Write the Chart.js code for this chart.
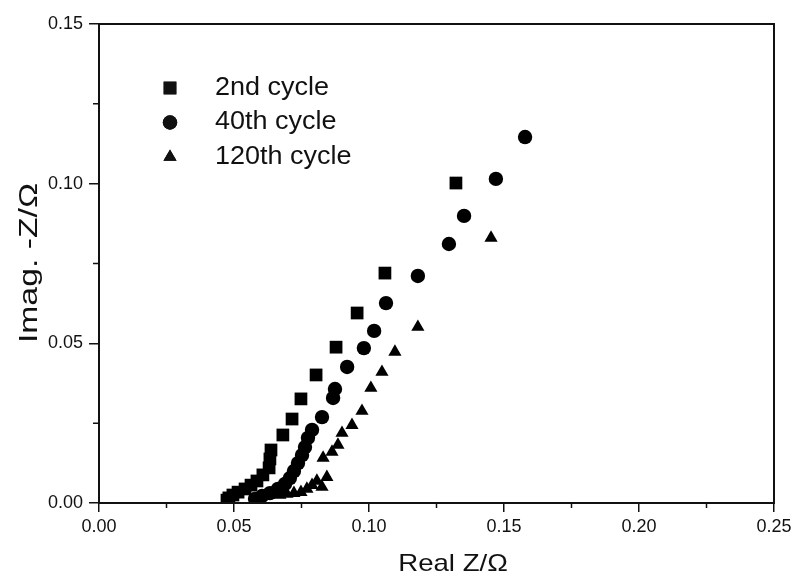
<!DOCTYPE html>
<html>
<head>
<meta charset="utf-8">
<script src="https://cdn.jsdelivr.net/npm/chart.js@4.4.1/dist/chart.umd.min.js"></script>
<style>
  html, body { margin: 0; padding: 0; background: #fff; }
  #wrap { width: 799px; height: 575px; }
</style>
</head>
<body>
<div id="wrap"><canvas id="cjs" width="799" height="575"></canvas></div>
<script>
// series values (Real Z, Imag -Z)
const cycle2X = [0.0474, 0.0481, 0.0496, 0.0515, 0.0541, 0.0563, 0.0585, 0.0607, 0.0630, 0.0633,
                 0.0637, 0.0681, 0.0715, 0.0748, 0.0804, 0.0878, 0.0956, 0.1059, 0.1322];
const cycle2Y = [0.0009, 0.0016, 0.0025, 0.0034, 0.0044, 0.0056, 0.0069, 0.0088, 0.0110, 0.0138,
                 0.0166, 0.0213, 0.0263, 0.0326, 0.0401, 0.0488, 0.0595, 0.0720, 0.1002];

const cycle40X = [0.0578, 0.0604, 0.0633, 0.0663, 0.0689, 0.0707, 0.0722, 0.0737, 0.0752, 0.0763,
                  0.0774, 0.0789, 0.0826, 0.0867, 0.0874, 0.0919, 0.0981, 0.1019, 0.1063, 0.1181,
                  0.1296, 0.1352, 0.1470, 0.1578];
const cycle40Y = [0.0013, 0.0022, 0.0031, 0.0044, 0.0060, 0.0078, 0.0100, 0.0125, 0.0150, 0.0175,
                  0.0204, 0.0229, 0.0269, 0.0329, 0.0357, 0.0426, 0.0485, 0.0539, 0.0626, 0.0711,
                  0.0811, 0.0899, 0.1015, 0.1146];

const cycle120X = [0.0670, 0.0696, 0.0722, 0.0748, 0.0770, 0.0789, 0.0807, 0.0826, 0.0844, 0.0830,
                   0.0863, 0.0885, 0.0900, 0.0937, 0.0974, 0.1007, 0.1048, 0.1096, 0.1181, 0.1452];
const cycle120Y = [0.0025, 0.0028, 0.0031, 0.0034, 0.0044, 0.0056, 0.0069, 0.0050, 0.0081, 0.0141,
                   0.0160, 0.0182, 0.0219, 0.0244, 0.0288, 0.0360, 0.0410, 0.0473, 0.0551, 0.0830];

const seriesLabels = ['2nd cycle', '40th cycle', '120th cycle'];
const seriesStyles = ['rect', 'circle', 'triangle'];
const seriesRadius = [9, 7.2, 7.6];

const xTicks = [0, 0.05, 0.10, 0.15, 0.20, 0.25];
const yTicks = [0, 0.05, 0.10, 0.15];

const FONT = 'Liberation Sans, Arial, sans-serif';

function pts(xs, ys){
    return xs.map(function(x, i){ return {x: x, y: ys[i]}; });
}

// text a bit wider than the font, like the scanned original
function wideText(ctx, txt, x, y, sx){
    ctx.save();
    ctx.translate(x, y);
    ctx.scale(sx, 1);
    ctx.fillText(txt, 0, 0);
    ctx.restore();
}

const allX = [cycle2X, cycle40X, cycle120X];
const allY = [cycle2Y, cycle40Y, cycle120Y];

const datasets = seriesLabels.map(function(lab, i){
    return {
        label: lab,
        data: pts(allX[i], allY[i]),
        pointStyle: seriesStyles[i],
        pointRadius: seriesRadius[i],
        pointHoverRadius: seriesRadius[i],
        backgroundColor: '#000',
        borderColor: '#000',
        borderWidth: 0,
        showLine: false
    };
});

// frame, minor ticks, axis titles and legend
const framePlugin = {
    id: 'frame',
    afterDraw(chart){
        const ctx = chart.ctx;
        const a = chart.chartArea;
        const xs = chart.scales.x, ys = chart.scales.y;
        ctx.save();
        ctx.strokeStyle = '#111';
        ctx.lineWidth = 2;
        ctx.strokeRect(a.left, a.top, a.right - a.left, a.bottom - a.top);

        ctx.lineWidth = 1.5;
        ctx.beginPath();
        for (let i = 0; i < xTicks.length - 1; i++){
            const px = xs.getPixelForValue((xTicks[i] + xTicks[i + 1]) / 2);
            ctx.moveTo(px, a.bottom); ctx.lineTo(px, a.bottom + 5);
        }
        for (let i = 0; i < yTicks.length - 1; i++){
            const py = ys.getPixelForValue((yTicks[i] + yTicks[i + 1]) / 2);
            ctx.moveTo(a.left, py); ctx.lineTo(a.left - 6, py);
        }
        ctx.stroke();

        ctx.fillStyle = '#111';
        ctx.font = '24px ' + FONT;
        ctx.textAlign = 'center';
        ctx.textBaseline = 'middle';
        wideText(ctx, 'Real Z/\u03A9', 453, 564, 1.15);
        ctx.save();
        ctx.translate(30, 263);
        ctx.rotate(-Math.PI / 2);
        ctx.font = '25px ' + FONT;
        wideText(ctx, 'Imag. -Z/\u03A9', 0, 0, 1.35);
        ctx.restore();

        // legend inside plot
        ctx.textAlign = 'left';
        ctx.font = '25px ' + FONT;
        seriesLabels.forEach(function(lab, i){
            const y = 88 + i * 34.5;
            Chart.helpers.drawPoint(ctx, {
                pointStyle: seriesStyles[i], radius: seriesRadius[i], rotation: 0, borderWidth: 0
            }, 170, y);
            ctx.fill();
            wideText(ctx, lab, 215, y, 1.08);
        });
        ctx.restore();
    }
};

const config = {
    type: 'scatter',
    data: { datasets: datasets },
    options: {
        responsive: false,
        animation: false,
        layout: { padding: { left: 0, top: 24, right: 25, bottom: 0 } },
        plugins: { legend: { display: false }, tooltip: { enabled: false } },
        scales: {
            x: {
                type: 'linear', min: 0, max: 0.25,
                afterFit: function(s){ s.height = 72; },
                afterBuildTicks: function(s){ s.ticks = xTicks.map(function(v){ return {value: v}; }); },
                grid: { drawOnChartArea: false, drawTicks: true, tickLength: 9, color: '#111', lineWidth: 1.5 },
                border: { display: false },
                ticks: {
                    color: '#111', padding: 4, maxRotation: 0,
                    font: { family: FONT, size: 18 },
                    callback: function(v){ return Number(v).toFixed(2); }
                }
            },
            y: {
                type: 'linear', min: 0, max: 0.15,
                afterFit: function(s){ s.width = 99; },
                afterBuildTicks: function(s){ s.ticks = yTicks.map(function(v){ return {value: v}; }); },
                grid: { drawOnChartArea: false, drawTicks: true, tickLength: 10, color: '#111', lineWidth: 1.5 },
                border: { display: false },
                ticks: {
                    color: '#111', padding: 6,
                    font: { family: FONT, size: 18 },
                    callback: function(v){ return Number(v).toFixed(2); }
                }
            }
        }
    },
    plugins: [framePlugin]
};

const myChart = new Chart(document.getElementById('cjs'), config);
</script>
</body>
</html>
